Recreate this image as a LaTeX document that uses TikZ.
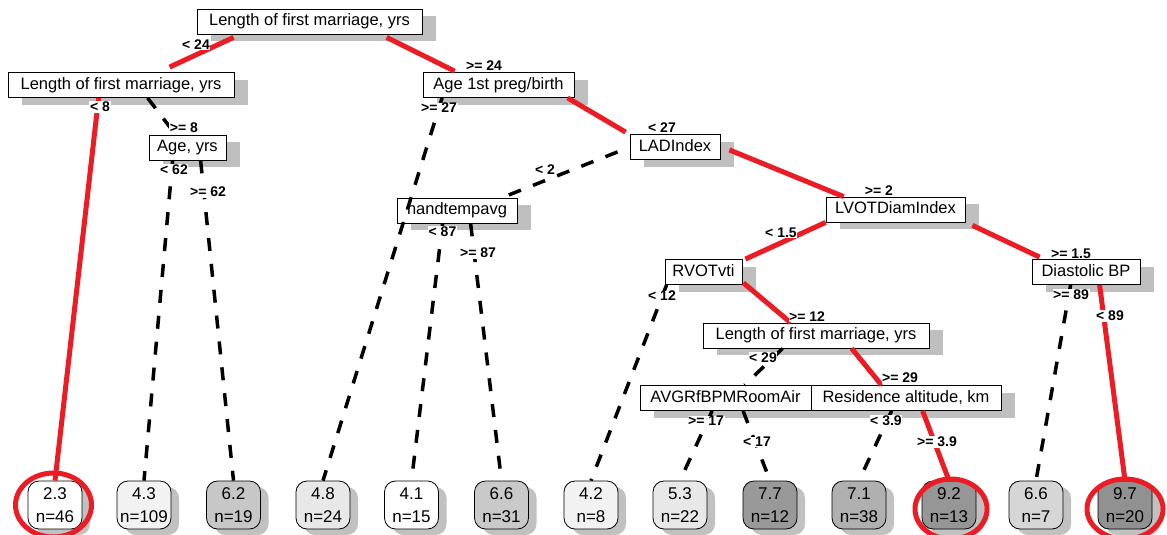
\documentclass[tikz,border=0pt]{standalone}
\usepackage{fontspec}
\setmainfont{Liberation Sans}
\usetikzlibrary{shadows,calc}
\definecolor{hl}{RGB}{236,28,36}
\tikzset{
 split/.style={draw=black, line width=0.8pt, fill=white, font=\fontsize{16.5}{18}\selectfont,
   inner sep=0pt, minimum height=25pt, text height=12pt, text depth=3.5pt,
   drop shadow={shadow xshift=14pt, shadow yshift=-7pt, fill=black!25, opacity=1}},
 leaf/.style={draw=black, line width=0.8pt, rounded corners=11pt, font=\fontsize{17}{23}\selectfont,
   align=center, inner sep=2pt, minimum width=54pt, minimum height=48pt,
   drop shadow={shadow xshift=8pt, shadow yshift=-6pt, fill=black!30, opacity=0.8}},
 lab/.style={font=\bfseries\fontsize{14}{15}\selectfont, fill=white, inner sep=0.6pt},
 hot/.style={draw=hl, line width=5pt},
 cold/.style={draw=black, line width=3.5pt, dash pattern=on 13pt off 13pt},
 ring/.style={draw=hl, line width=5pt},
}
\begin{document}
\begin{tikzpicture}[x=1pt,y=-1pt]
\fill[white] (0,0) rectangle (1167,535);
\useasboundingbox (0,0) rectangle (1167,535);
% split nodes
\node[split, minimum width=225pt] (root) at (309.5,21.5) {Length of first marriage, yrs};
\node[split, minimum width=226pt] (L1) at (121,85) {Length of first marriage, yrs};
\node[split, minimum width=151pt] (A1) at (498.5,85) {Age 1st preg/birth};
\node[split, minimum width=77pt] (Age) at (187.5,147.5) {Age, yrs};
\node[split, minimum width=90pt] (LAD) at (675,147) {LADIndex};
\node[split, minimum width=120pt] (hand) at (457,210.5) {handtempavg};
\node[split, minimum width=139pt] (LVOT) at (895.5,209.5) {LVOTDiamIndex};
\node[split, minimum width=77pt] (RVOT) at (703.5,272) {RVOTvti};
\node[split, minimum width=108pt] (Dia) at (1086,272) {Diastolic BP};
\node[split, minimum width=226pt] (LFM3) at (816,335.5) {Length of first marriage, yrs};
\node[split, minimum width=171pt] (AVG) at (725.5,398) {AVGRfBPMRoomAir};
\node[split, minimum width=190pt] (Res) at (906,398) {Residence altitude, km};
% leaves
\node[leaf, fill=white]    (l1)  at (55,505)    {2.3\\n=46};
\node[leaf, fill=black!5]  (l2)  at (144,505)   {4.3\\n=109};
\node[leaf, fill=black!22] (l3)  at (233.5,505) {6.2\\n=19};
\node[leaf, fill=black!9]  (l4)  at (323,505)   {4.8\\n=24};
\node[leaf, fill=white]    (l5)  at (411.5,505) {4.1\\n=15};
\node[leaf, fill=black!21] (l6)  at (501.5,505) {6.6\\n=31};
\node[leaf, fill=black!5]  (l7)  at (591,505)   {4.2\\n=8};
\node[leaf, fill=black!9]  (l8)  at (680,505)   {5.3\\n=22};
\node[leaf, fill=black!40] (l9)  at (770,505)   {7.7\\n=12};
\node[leaf, fill=black!31] (l10) at (859,505)   {7.1\\n=38};
\node[leaf, fill=black!41] (l11) at (949,505)   {9.2\\n=13};
\node[leaf, fill=black!16] (l12) at (1036,505)  {6.6\\n=7};
\node[leaf, fill=black!43] (l13) at (1125,505)  {9.7\\n=20};
% edges
\draw[hot]  ($(root.south west)+(37,3)$) -- ($(L1.north west)+(162,-5)$);
\draw[hot]  ($(root.south west)+(190,3)$) -- ($(A1.north west)+(32,-1)$);
\draw[hot]  ($(L1.south west)+(91,0)$) -- (l1.north);
\draw[cold] ($(L1.south west)+(140,0)$) -- ($(Age.north west)+(27,0)$);
\draw[cold] ($(Age.south west)+(24,0)$) -- (l2.north);
\draw[cold] ($(Age.south west)+(52,0)$) -- (l3.north);
\draw[cold] ($(A1.south west)+(19.5,0)$) -- (l4.north);
\draw[hot]  ($(A1.south west)+(145,0)$) -- ($(LAD.north west)+(-4,-2)$);
\draw[cold] ($(LAD.south west)+(-12,-8)$) -- ($(hand.north west)+(108,-1)$);
\draw[hot]  ($(LAD.south east)+(9,-10)$) -- ($(LVOT.north west)+(18,0)$);
\draw[cold] ($(hand.south west)+(46,0)$) -- (l5.north);
\draw[cold] ($(hand.south west)+(74,0)$) -- (l6.north);
\draw[hot]  (LVOT.south west) -- ($(RVOT.north east)+(3,0)$);
\draw[hot]  ($(LVOT.south east)+(7,3)$) -- ($(Dia.north west)+(8,-2)$);
\draw[cold] ($(RVOT.south west)+(2,0)$) -- (l7.north);
\draw[hot]  ($(RVOT.south east)+(1,-2)$) -- ($(LFM3.north west)+(88,0)$);
\draw[cold] ($(Dia.south west)+(39,0)$) -- (l12.north);
\draw[hot]  ($(Dia.south west)+(68,0)$) -- (l13.north);
\draw[cold] ($(LFM3.south west)+(80,0)$) -- ($(AVG.north west)+(105,0)$);
\draw[hot]  ($(LFM3.south west)+(149,0)$) -- ($(Res.north west)+(71,0)$);
\draw[cold] ($(AVG.south west)+(72.5,0)$) -- (l8.north);
\draw[cold] ($(AVG.south west)+(103.5,0)$) -- (l9.north);
\draw[cold] ($(Res.south west)+(81,0)$) -- (l10.north);
\draw[hot]  ($(Res.south west)+(112,0)$) -- (l11.north);
% labels
\node[lab] (t1)  at (196,45)   {< 24};
\node[lab] (t2)  at (484,66)   {>= 24};
\node[lab] (t3)  at (100,107)  {< 8};
\node[lab] (t4)  at (184,128)  {>= 8};
\node[lab] (t5)  at (174,170)  {< 62};
\node[lab] (t6)  at (208,192)  {>= 62};
\node[lab] (t7)  at (439,108)  {>= 27};
\node[lab] (t8)  at (662,128)  {< 27};
\node[lab] (t9)  at (545,170)  {< 2};
\node[lab] (t10) at (879,191)  {>= 2};
\node[lab] (t11) at (442.5,232) {< 87};
\node[lab] (t12) at (478,253)  {>= 87};
\node[lab] (t13) at (781,233)  {< 1.5};
\node[lab] (t14) at (1071,254) {>= 1.5};
\node[lab] (t15) at (662,296)  {< 12};
\node[lab] (t16) at (1071,295) {>= 89};
\node[lab] (t17) at (807,317)  {>= 12};
\node[lab] (t18) at (1110,316) {< 89};
\node[lab] (t19) at (763,358)  {< 29};
\node[lab] (t20) at (900,378)  {>= 29};
\node[lab] (t21) at (706,421)  {>= 17};
\node[lab] (t22) at (886,421)  {< 3.9};
\node[lab] (t23) at (757,442)  {< 17};
\node[lab] (t24) at (937,442)  {>= 3.9};
% highlight rings
\draw[ring] ($(l1)+(-1.5,0)$) ellipse [x radius=38pt, y radius=32pt];
\draw[ring] ($(l11)+(2,4)$) ellipse [x radius=36pt, y radius=30pt];
\draw[ring] ($(l13)+(0,4)$) ellipse [x radius=38pt, y radius=30pt];
\end{tikzpicture}
\end{document}
